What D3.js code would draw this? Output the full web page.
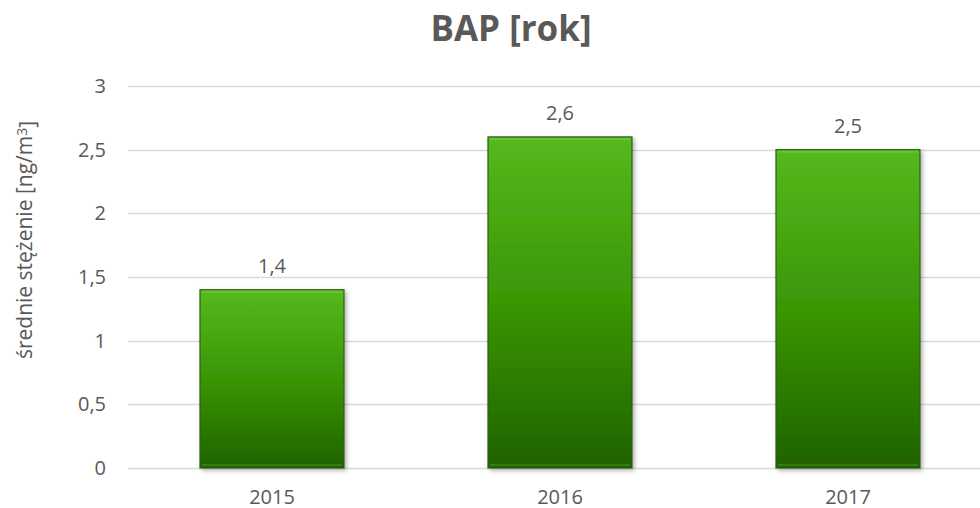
<!DOCTYPE html>
<html>
<head>
<meta charset="utf-8">
<script src="https://cdn.jsdelivr.net/npm/d3@7"></script>
<style>
  body { margin: 0; background: #fff; }
  text { font-family: "Open Sans", sans-serif; fill: #595959; }
</style>
</head>
<body>
<div id="chart"></div>
<script>
var years = ["2015", "2016", "2017"];
var values = [1.4, 2.6, 2.5];
var yTicks = [0, 0.5, 1, 1.5, 2, 2.5, 3];

var width = 980,
  height = 508;
var margin = { top: 86, right: -12, bottom: 40, left: 128 };

var svg = d3.select("#chart").append("svg")
  .attr("width", width)
  .attr("height", height);

var defs = svg.append("defs");
var grad = defs.append("linearGradient")
  .attr("id", "barGrad")
  .attr("x1", 0).attr("y1", 0).attr("x2", 0).attr("y2", 1);
grad.append("stop").attr("offset", "0%").attr("stop-color", "#55b91d");
grad.append("stop").attr("offset", "50%").attr("stop-color", "#3a9605");
grad.append("stop").attr("offset", "100%").attr("stop-color", "#1f6200");

var shadow = defs.append("filter").attr("id", "shadow")
  .attr("x", "-10%").attr("y", "-10%").attr("width", "130%").attr("height", "130%");
shadow.append("feDropShadow")
  .attr("dx", 2).attr("dy", 2).attr("stdDeviation", 2)
  .attr("flood-color", "#000").attr("flood-opacity", 0.3);

var x = d3.scaleBand()
  .domain(years)
  .range([margin.left, width - margin.right])
  .paddingInner(0.5)
  .paddingOuter(0.25);

var y = d3.scaleLinear()
  .domain([0, 3])
  .range([height - margin.bottom, margin.top]);

// gridlines
svg.append("g")
  .selectAll("line")
  .data(yTicks)
  .enter().append("line")
    .attr("x1", margin.left)
    .attr("x2", width)
    .attr("y1", function(d) { return Math.round(y(d)) + 0.5; })
    .attr("y2", function(d) { return Math.round(y(d)) + 0.5; })
    .attr("stroke", "#d9d9d9")
    .attr("stroke-width", 1.5);

// y tick labels
svg.append("g")
  .selectAll("text")
  .data(yTicks)
  .enter().append("text")
    .attr("x", 106)
    .attr("y", function(d) { return y(d); })
    .attr("dy", "0.35em")
    .attr("text-anchor", "end")
    .style("font-size", "20px")
    .text(function(d) { return String(d).replace(".", ","); });

// bars
var bars = svg.append("g");
bars.selectAll("rect.bar")
  .data(values)
  .enter().append("rect")
    .attr("class", "bar")
    .attr("x", function(d, i) { return x(years[i]); })
    .attr("y", function(d) { return y(d); })
    .attr("width", x.bandwidth())
    .attr("height", function(d) { return y(0) - y(d); })
    .attr("fill", "url(#barGrad)")
    .attr("stroke", "#2f5f16")
    .attr("stroke-width", 1.2)
    .attr("filter", "url(#shadow)");

// bevel highlight on top edge, darker rim at the bottom
bars.selectAll("line.bevel")
  .data(values)
  .enter().append("line")
    .attr("class", "bevel")
    .attr("x1", function(d, i) { return x(years[i]) + 2; })
    .attr("x2", function(d, i) { return x(years[i]) + x.bandwidth() - 2; })
    .attr("y1", function(d) { return y(d) + 2; })
    .attr("y2", function(d) { return y(d) + 2; })
    .attr("stroke", "#7acc4a")
    .attr("stroke-opacity", 0.6)
    .attr("stroke-width", 2);
bars.selectAll("line.rim")
  .data(values)
  .enter().append("line")
    .attr("class", "rim")
    .attr("x1", function(d, i) { return x(years[i]) + 2; })
    .attr("x2", function(d, i) { return x(years[i]) + x.bandwidth() - 2; })
    .attr("y1", y(0) - 3)
    .attr("y2", y(0) - 3)
    .attr("stroke", "#3f8a1c")
    .attr("stroke-opacity", 0.6)
    .attr("stroke-width", 2);

// data labels
svg.append("g")
  .selectAll("text")
  .data(values)
  .enter().append("text")
    .attr("x", function(d, i) { return x(years[i]) + x.bandwidth() / 2; })
    .attr("y", function(d) { return y(d) - 24; })
    .attr("dy", "0.35em")
    .attr("text-anchor", "middle")
    .style("font-size", "20px")
    .text(function(d) { return String(d).replace(".", ","); });

// x labels
svg.append("g")
  .selectAll("text")
  .data(years)
  .enter().append("text")
    .attr("x", function(d) { return x(d) + x.bandwidth() / 2; })
    .attr("y", 497)
    .attr("dy", "0.35em")
    .attr("text-anchor", "middle")
    .style("font-size", "20px")
    .text(function(d) { return d; });

// title
svg.append("text")
  .attr("x", 511)
  .attr("y", 29)
  .attr("dy", "0.35em")
  .attr("text-anchor", "middle")
  .style("font-size", "35px")
  .style("font-weight", "bold")
  .text("BAP [rok]");

// y axis title
var yt = svg.append("text")
  .attr("transform", "translate(25,240) rotate(-90)")
  .attr("dy", "0.35em")
  .attr("text-anchor", "middle")
  .style("font-size", "21px");
yt.append("tspan").text("średnie stężenie [ng/m");
yt.append("tspan").attr("dy", "-0.4em").style("font-size", "14px").text("3");
yt.append("tspan").attr("dy", "0.4em").text("]");
</script>
</body>
</html>
